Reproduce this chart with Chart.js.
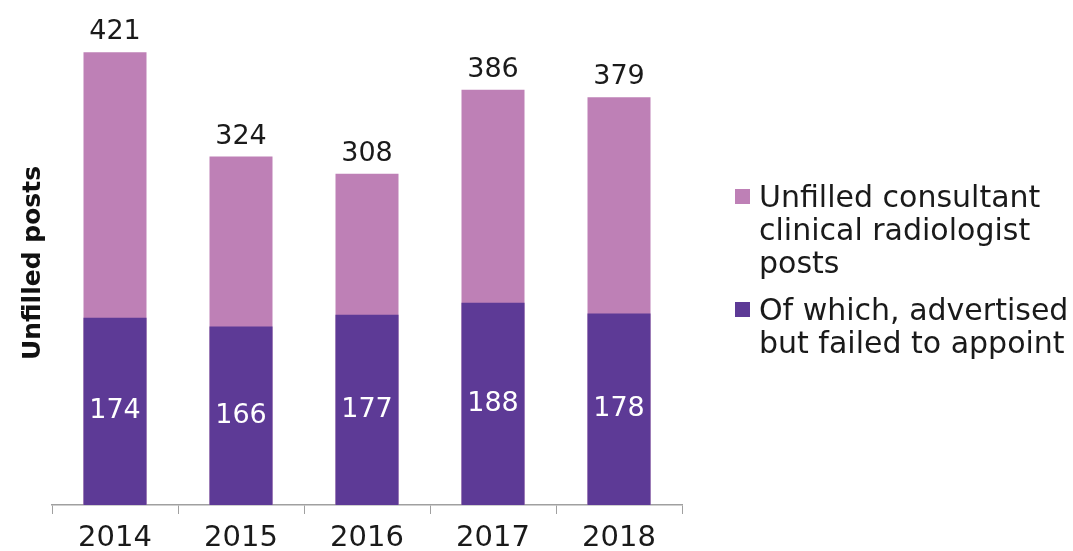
<!DOCTYPE html>
<html>
<head>
<meta charset="utf-8">
<script src="https://cdn.jsdelivr.net/npm/chart.js@4/dist/chart.umd.min.js"></script>
<style>
  body { margin: 0; background: #fff; }
  #wrap { position: relative; width: 1073px; height: 551px; }
  #legend { position: absolute; left: 735px; top: 180px; font-family: "DejaVu Sans", sans-serif; font-size: 30px; line-height: 33px; color: #1a1a1a; white-space: nowrap; }
  .item { display: flex; align-items: flex-start; margin-bottom: 14px; }
  .sw { width: 15px; height: 15px; margin-top: 9px; margin-right: 9px; flex: none; }
</style>
</head>
<body>
<div id="wrap">
  <canvas id="c" width="1073" height="551"></canvas>
  <div id="legend"></div>
</div>
<script>
const years = ["2014", "2015", "2016", "2017", "2018"]
const unfilledPosts = [421, 324, 308, 386, 379]
const failedToAppoint = [174, 166, 177, 188, 178]
const seriesNames = [["Unfilled consultant", "clinical radiologist", "posts"], ["Of which, advertised", "but failed to appoint"]]
const lightPurple = "rgb(190,128,182)"
const darkPurple = "rgb(93,58,150)"
const font = "'DejaVu Sans', sans-serif"

//Plug in per le etichette dei valori
const valueLabels = {
  id: "valueLabels",
  afterDatasetsDraw(chart) {
    const { ctx } = chart
    ctx.save()
    ctx.textAlign = "center"
    ctx.textBaseline = "middle"
    ctx.font = "27px " + font
    // totali sopra le barre
    chart.getDatasetMeta(1).data.forEach((bar, i) => {
      ctx.fillStyle = "#1a1a1a"
      ctx.fillText(unfilledPosts[i], bar.x, bar.y - 20)
    })
    // valori bianchi dentro la parte scura
    chart.getDatasetMeta(0).data.forEach((bar, i) => {
      ctx.fillStyle = "white"
      ctx.fillText(failedToAppoint[i], bar.x, (bar.y + bar.base) / 2)
    })
    ctx.restore()
  },
}

const chart = new Chart(document.getElementById("c"), {
  type: "bar",
  plugins: [valueLabels],
  data: {
    labels: years,
    datasets: [
      { label: seriesNames[1].join(" "), data: failedToAppoint, backgroundColor: darkPurple, grouped: false },
      { label: seriesNames[0].join(" "), data: unfilledPosts, backgroundColor: lightPurple, grouped: false },
    ],
  },
  options: {
    responsive: false,
    animation: false,
    categoryPercentage: 1,
    barPercentage: 0.5,
    layout: { padding: { top: 21, right: 391, bottom: 0, left: 0 } },
    plugins: { legend: { display: false }, tooltip: { enabled: false } },
    scales: {
      x: {
        grid: { drawOnChartArea: false, color: "#a0a0a0", tickLength: 9, offset: true },
        border: { color: "#a0a0a0", width: 1.5 },
        ticks: { color: "#1a1a1a", padding: 7, font: { family: font, size: 29 } },
        afterFit(scale) { scale.height = 46 },
      },
      y: {
        min: 0,
        max: 450,
        grid: { display: false },
        border: { display: false },
        ticks: { display: false },
        title: { display: true, text: "Unfilled posts", color: "#111", padding: { top: 18, bottom: 0 }, font: { family: font, size: 25, weight: "bold" } },
        afterFit(scale) { scale.width = 52 },
      },
    },
  },
})

// legenda in HTML (testo su più righe)
const legend = document.getElementById("legend")
const colors = [lightPurple, darkPurple]
seriesNames.forEach((lines, i) => {
  const item = document.createElement("div")
  item.className = "item"
  item.innerHTML = '<div class="sw" style="background:' + colors[i] + '"></div><div>' + lines.join("<br>") + "</div>"
  legend.appendChild(item)
})
</script>
</body>
</html>
